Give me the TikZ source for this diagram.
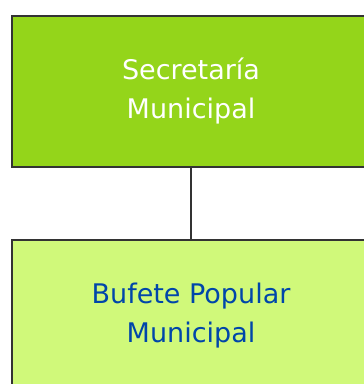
\documentclass[tikz,border=0pt]{standalone}
\usepackage{fontspec}
\setmainfont{DejaVu Sans}
\usepackage{tikz}
\usetikzlibrary{positioning}
\definecolor{limegreen}{RGB}{148,213,26}
\definecolor{palegreen}{RGB}{208,249,122}
\definecolor{boxline}{RGB}{51,51,51}
\definecolor{unitblue}{RGB}{0,70,170}

\begin{document}
\begin{tikzpicture}[x=1pt, y=-1pt,
	unit/.style={draw=boxline, line width=2pt, minimum width=358pt, minimum height=151pt, align=center, inner sep=0pt, font=\fontsize{27}{39}\selectfont},
	head/.style={unit, fill=limegreen, text=white},
	sub/.style={unit, fill=palegreen, text=unitblue}]

\def \xw{364}
\def \xh{384}

\clip (0,0) rectangle (\xw,\xh); % picture frame

\node[head] (secretaria) at (191, 91.5) {Secretaría\\Municipal};
\node[sub, below=71pt of secretaria] (bufete) {Bufete Popular\\Municipal};

\draw[boxline, line width=2pt] (secretaria.south) -- (bufete.north); % link

\end{tikzpicture}
\end{document}
